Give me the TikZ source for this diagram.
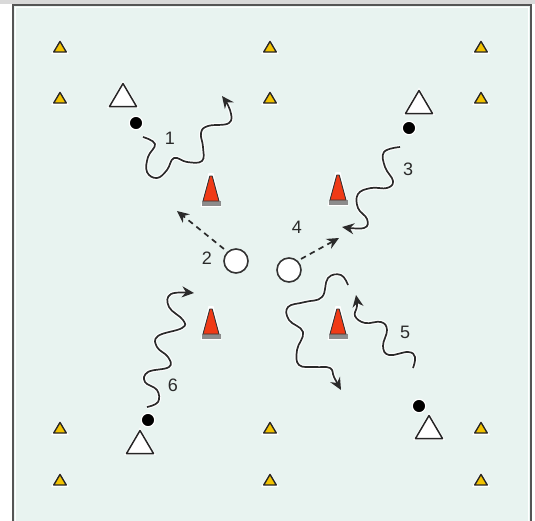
\documentclass[tikz,border=0pt]{standalone}
\usepackage{fontspec}
\setmainfont{Liberation Sans}
\usetikzlibrary{arrows.meta}
\definecolor{fieldbg}{HTML}{E8F3F0}
\definecolor{framegray}{HTML}{555555}
\definecolor{coneyellow}{HTML}{F2C200}
\definecolor{conered}{HTML}{F03A16}
\definecolor{inkgray}{HTML}{2A2A2A}
\tikzset{
  smallcone/.pic={
    \fill[white] (-9,7)--(0,-8)--(9,7)--cycle;
    \draw[fill=coneyellow, draw=black!85, line width=1.4pt, line join=round] (-6.3,5)--(0,-5.6)--(6.3,5)--cycle;
  },
  bigcone/.pic={
    \fill[white] (-16,13)--(0,-14.5)--(16,13)--cycle;
    \draw[fill=white, draw=black!85, line width=1.5pt, line join=round] (-13.5,11.5)--(0,-11.5)--(13.5,11.5)--cycle;
  },
  redcone/.pic={
    \fill[white] (-10.5,6)--(-2.5,-28)--(2.5,-28)--(10.5,6)--cycle;
    \fill[black!45] (-9.5,0)rectangle(9.5,4.5);
    \draw[fill=conered, draw=black!80, line width=0.9pt, line join=round] (-8,0)--(-1.2,-25)--(1.2,-25)--(8,0)--cycle;
  },
  dotmark/.style={circle, fill=black, minimum size=13.5pt, inner sep=0pt, draw=white, line width=1.2pt},
  ballmark/.style={circle, fill=white, draw=black!80, line width=1.6pt, minimum size=24pt, inner sep=0pt},
  dribble/.style={draw=inkgray, line width=1.7pt, preaction={draw=white, line width=4pt}, -{Stealth[length=12pt,width=11pt]}},
  passline/.style={draw=inkgray, line width=1.7pt, dash pattern=on 5.5pt off 4.5pt, -{Stealth[length=12pt,width=11pt]}},
  numlabel/.style={text=inkgray, font=\fontsize{18}{18}\selectfont, inner sep=0pt}
}
\begin{document}
\begin{tikzpicture}[x=1pt,y=-1pt]
\useasboundingbox (0,0) rectangle (535,520);
\fill[white] (0,0) rectangle (535,520);
\fill[black!15] (0,0) rectangle (535,4);
\fill[fieldbg] (13,5) rectangle (531,522);
\draw[white, line width=1pt] (15.5,525) -- (15.5,7.5) -- (528.5,7.5) -- (528.5,525);
\draw[framegray, line width=2.2pt] (13,525) -- (13,5) -- (531,5) -- (531,525);

% small yellow cones
\foreach \x in {60,270,481}{
  \foreach \y in {47,98,428,480}{
    \pic at (\x,\y) {smallcone};
  }
}

% red cones (origin at base centre)
\pic at (211,201) {redcone};
\pic at (338,200) {redcone};
\pic at (211,334) {redcone};
\pic at (338,334) {redcone};

% big white cones
\pic at (123,95) {bigcone};
\pic at (419,102) {bigcone};
\pic at (140,442) {bigcone};
\pic at (429,427) {bigcone};

% players (dots)
\node[dotmark] (p1) at (136,123) {};
\node[dotmark] (p3) at (409,128) {};
\node[dotmark] (p6) at (148,420) {};
\node[dotmark] (p5) at (419,406) {};

% balls
\node[ballmark] (bl) at (236,261) {};
\node[ballmark] (br) at (289,270) {};

% passes
\coordinate (t2) at (177,211);
\coordinate (t4) at (339,238);
\draw[passline] (bl.north west) ++(-3,-3) -- (t2);
\draw[passline] (br.north east) ++(3,-2) -- (t4);

% dribbles
\draw[dribble] plot[smooth, tension=0.7] coordinates {(143,137) (155,144) (148,157) (147,172) (157,178) (167,170) (174,158) (187,162) (202,161) (203,147) (201,133) (208,126) (229,123) (230,110) (222,96)};
\draw[dribble] plot[smooth, tension=0.7] coordinates {(400,147) (384,152) (385,167) (393,181) (387,188) (371,188) (358,194) (358,208) (367,219) (364,228) (342,227)};
\draw[dribble] plot[smooth, tension=0.7] coordinates {(413,368) (415,357) (408,352) (389,355) (383,346) (387,330) (381,322) (365,323) (355,316) (357,306) (356,295)};
\draw[dribble] plot[smooth, tension=0.7] coordinates {(348,285) (341,275) (328,278) (322,297) (305,302) (288,307) (289,320) (303,332) (297,350) (299,365) (315,367) (330,368) (334,377) (341,390)};
\draw[dribble] plot[smooth, tension=0.7] coordinates {(147,407) (158,402) (157,390) (145,382) (148,372) (169,367) (168,357) (157,347) (158,336) (182,328) (183,320) (169,307) (171,294) (194,293)};

% labels
\node[numlabel] (l1) at (170,138) {1};
\node[numlabel] (l2) at (207,258) {2};
\node[numlabel] (l3) at (408,169) {3};
\node[numlabel] (l4) at (297,227) {4};
\node[numlabel] (l5) at (405,332) {5};
\node[numlabel] (l6) at (173,385) {6};
\end{tikzpicture}
\end{document}
